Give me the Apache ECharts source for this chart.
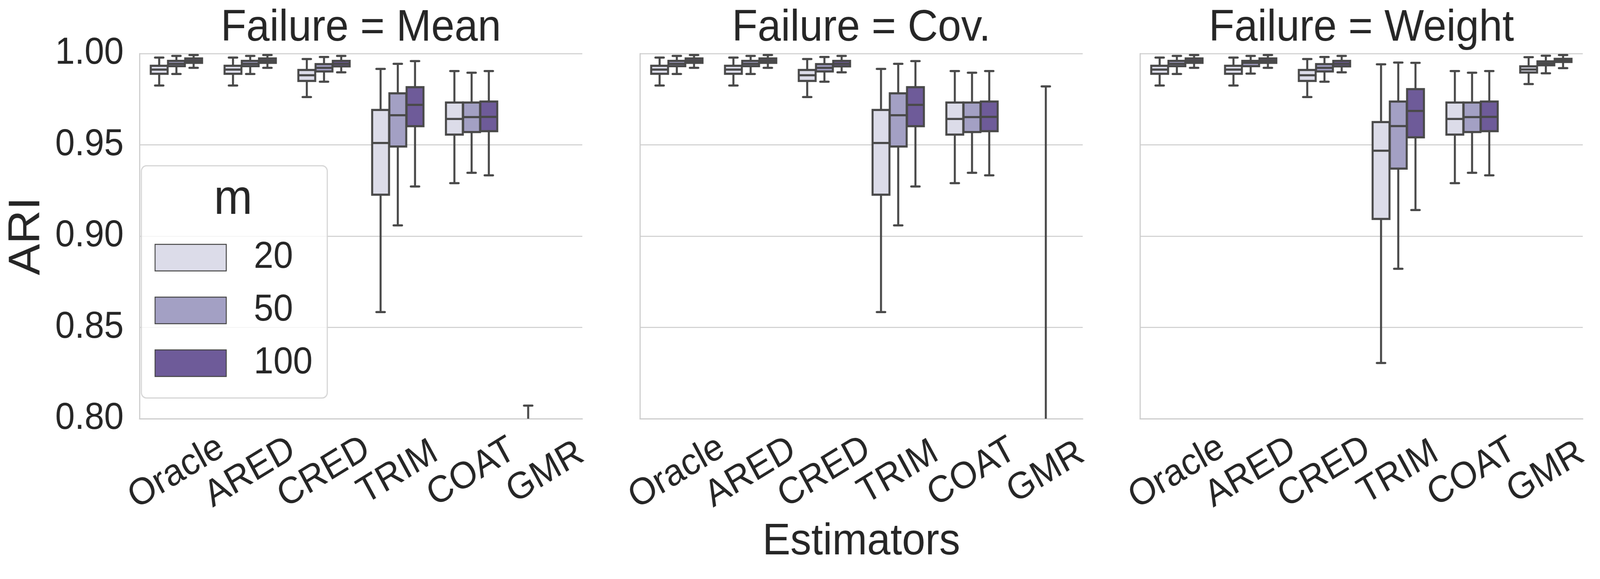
<!DOCTYPE html>
<html>
<head>
<meta charset="utf-8">
<script src="https://cdn.jsdelivr.net/npm/echarts@6/dist/echarts.min.js"></script>
<style>
html,body{margin:0;padding:0;background:#fff;overflow:hidden;}
#chart{width:4358px;height:1481px;transform-origin:0 0;}
</style>
</head>
<body>
<div id="chart"></div>
<script>
// ---------------- data ----------------
const categories = ['Oracle', 'ARED', 'CRED', 'TRIM', 'COAT', 'GMR'];
const hues = ['20', '50', '100'];
const panelTitles = ['Failure = Mean', 'Failure = Cov.', 'Failure = Weight'];
const yTickValues = [0.80, 0.85, 0.90, 0.95, 1.00];
const xAxisTitle = 'Estimators';
const yAxisTitle = 'ARI';
const legendTitle = 'm';

// each row: [lower whisker, Q1, median, Q3, upper whisker] per category
const meanM20 = [
  [0.9825, 0.9889, 0.9912, 0.9933, 0.9978],
  [0.9825, 0.9889, 0.9912, 0.9933, 0.9978],
  [0.9762, 0.9850, 0.9881, 0.9910, 0.9970],
  [0.8584, 0.9227, 0.9510, 0.9691, 0.9916],
  [0.9290, 0.9556, 0.9642, 0.9732, 0.9904],
  [0.5500, 0.6800, 0.7300, 0.7700, 0.8072]
];
const meanM50 = [
  [0.9888, 0.9931, 0.9944, 0.9960, 0.9987],
  [0.9888, 0.9931, 0.9944, 0.9960, 0.9987],
  [0.9846, 0.9902, 0.9922, 0.9942, 0.9981],
  [0.9059, 0.9491, 0.9662, 0.9782, 0.9944],
  [0.9347, 0.9570, 0.9652, 0.9732, 0.9895],
  [0.5000, 0.6200, 0.6800, 0.7200, 0.7800]
];
const meanM100 = [
  [0.9922, 0.9949, 0.9961, 0.9973, 0.9992],
  [0.9922, 0.9949, 0.9961, 0.9973, 0.9992],
  [0.9897, 0.9930, 0.9944, 0.9960, 0.9987],
  [0.9272, 0.9602, 0.9719, 0.9816, 0.9959],
  [0.9333, 0.9575, 0.9653, 0.9737, 0.9904],
  [0.5200, 0.6400, 0.7000, 0.7400, 0.7900]
];

const covM20 = [
  [0.9825, 0.9889, 0.9912, 0.9933, 0.9978],
  [0.9825, 0.9889, 0.9912, 0.9933, 0.9978],
  [0.9762, 0.9850, 0.9881, 0.9910, 0.9970],
  [0.8584, 0.9227, 0.9510, 0.9691, 0.9916],
  [0.9290, 0.9556, 0.9642, 0.9732, 0.9904],
  [0.4000, 0.5500, 0.6200, 0.6800, 0.7600]
];
const covM50 = [
  [0.9888, 0.9931, 0.9944, 0.9960, 0.9987],
  [0.9888, 0.9931, 0.9944, 0.9960, 0.9987],
  [0.9846, 0.9902, 0.9922, 0.9942, 0.9981],
  [0.9059, 0.9491, 0.9662, 0.9782, 0.9944],
  [0.9347, 0.9570, 0.9652, 0.9732, 0.9895],
  [0.4500, 0.6000, 0.6800, 0.7500, 0.9820]
];
const covM100 = [
  [0.9922, 0.9949, 0.9961, 0.9973, 0.9992],
  [0.9922, 0.9949, 0.9961, 0.9973, 0.9992],
  [0.9897, 0.9930, 0.9944, 0.9960, 0.9987],
  [0.9272, 0.9602, 0.9719, 0.9816, 0.9959],
  [0.9333, 0.9575, 0.9653, 0.9737, 0.9904],
  [0.4200, 0.5600, 0.6400, 0.7000, 0.7800]
];

const weightM20 = [
  [0.9825, 0.9889, 0.9912, 0.9933, 0.9978],
  [0.9825, 0.9889, 0.9912, 0.9933, 0.9978],
  [0.9762, 0.9850, 0.9881, 0.9910, 0.9970],
  [0.8305, 0.9094, 0.9468, 0.9625, 0.9941],
  [0.9290, 0.9556, 0.9642, 0.9732, 0.9904],
  [0.9833, 0.9896, 0.9913, 0.9930, 0.9980]
];
const weightM50 = [
  [0.9888, 0.9931, 0.9944, 0.9960, 0.9987],
  [0.9890, 0.9931, 0.9949, 0.9960, 0.9987],
  [0.9846, 0.9902, 0.9922, 0.9942, 0.9981],
  [0.8821, 0.9370, 0.9603, 0.9737, 0.9951],
  [0.9347, 0.9570, 0.9652, 0.9732, 0.9895],
  [0.9892, 0.9936, 0.9946, 0.9957, 0.9988]
];
const weightM100 = [
  [0.9922, 0.9949, 0.9961, 0.9973, 0.9992],
  [0.9922, 0.9949, 0.9961, 0.9973, 0.9992],
  [0.9897, 0.9930, 0.9944, 0.9960, 0.9987],
  [0.9143, 0.9541, 0.9686, 0.9805, 0.9949],
  [0.9333, 0.9575, 0.9653, 0.9737, 0.9904],
  [0.9920, 0.9954, 0.9962, 0.9971, 0.9992]
];

const panelData = [
  [meanM20, meanM50, meanM100],
  [covM20, covM50, covM100],
  [weightM20, weightM50, weightM100]
];

// ---------------- styles ----------------
const hueColors = ['#dcdce9', '#a3a0c4', '#6e5b99'];
const lineColor = '#494949';
const textColor = '#262626';
const gridColor = '#cccccc';
const LW = 5.5;
const FONT = '"Liberation Sans", Arial, "DejaVu Sans", sans-serif';

const W = 4358, H = 1481;
const gridLefts = [380, 1743, 3105];
const gridW = 1206, gridTop = 137, gridH = 934;

// the viewport may be narrower than the requested width: fit the figure horizontally
const chartEl = document.getElementById('chart');
const fitX = Math.min(1, (window.innerWidth || W) / W);
if (fitX < 1) chartEl.style.transform = 'scaleX(' + fitX + ')';

const chart = echarts.init(chartEl, null, {renderer: 'canvas', width: W, height: H});

function makeRender(hueIdx) {
  return function (params, api) {
    const cat = api.value(0);
    const lo = api.value(1), q1 = api.value(2), med = api.value(3), q3 = api.value(4), hi = api.value(5);
    const cs = params.coordSys;
    const top = cs.y, bottom = cs.y + cs.height;
    const band = api.size([1, 0])[0];
    const step = band * 0.7 / 3;
    const bw = step * 0.98;
    const cx = api.coord([cat, 0.9])[0] + (hueIdx - 1) * step;
    const Y = v => api.coord([cat, v])[1];
    const clampY = y => Math.max(top, Math.min(bottom, y));
    const inside = y => y >= top - 0.5 && y <= bottom + 0.5;
    const children = [];
    const yLo = Y(lo), yQ1 = Y(q1), yMed = Y(med), yQ3 = Y(q3), yHi = Y(hi);
    const seg = (ya, yb) => {
      const a = clampY(Math.min(ya, yb)), b = clampY(Math.max(ya, yb));
      if (b - a > 0.5) {
        children.push({type: 'line', shape: {x1: cx, y1: a, x2: cx, y2: b},
          style: {stroke: lineColor, lineWidth: LW, lineCap: 'butt'}});
      }
    };
    seg(yHi, yQ3);
    seg(yQ1, yLo);
    [yHi, yLo].forEach(y => {
      if (inside(y)) {
        children.push({type: 'line', shape: {x1: cx - bw / 4, y1: y, x2: cx + bw / 4, y2: y},
          style: {stroke: lineColor, lineWidth: LW, lineCap: 'round'}});
      }
    });
    const bt = clampY(yQ3), bb = clampY(yQ1);
    if (bb - bt > 0.5) {
      children.push({type: 'rect', shape: {x: cx - bw / 2, y: bt, width: bw, height: bb - bt},
        style: {fill: hueColors[hueIdx], stroke: lineColor, lineWidth: LW, lineJoin: 'miter'}});
    }
    if (inside(yMed)) {
      children.push({type: 'line', shape: {x1: cx - bw / 2, y1: yMed, x2: cx + bw / 2, y2: yMed},
        style: {stroke: lineColor, lineWidth: LW, lineCap: 'butt'}});
    }
    return {type: 'group', children: children};
  };
}

const grids = [], xAxes = [], yAxes = [], series = [], graphics = [];
for (let p = 0; p < 3; p++) {
  grids.push({left: gridLefts[p], top: gridTop, width: gridW, height: gridH, containLabel: false});
  xAxes.push({
    type: 'category', gridIndex: p, data: categories, boundaryGap: true,
    axisLine: {show: true, lineStyle: {color: gridColor, width: 3}},
    axisTick: {show: false},
    splitLine: {show: false},
    axisLabel: {
      interval: 0, rotate: 30, align: 'center', verticalAlign: 'middle', margin: 138,
      fontSize: 96, color: textColor, fontFamily: FONT
    }
  });
  yAxes.push({
    type: 'value', gridIndex: p, min: yTickValues[0], max: yTickValues[yTickValues.length - 1],
    interval: 0.05,
    axisLine: {show: true, lineStyle: {color: gridColor, width: 3}},
    axisTick: {show: false},
    splitLine: {show: true, lineStyle: {color: gridColor, width: 2.5}},
    axisLabel: {
      show: p === 0, margin: 43, fontSize: 96, color: textColor, fontFamily: FONT,
      formatter: v => v.toFixed(2)
    }
  });
  for (let h = 0; h < 3; h++) {
    const rows = panelData[p][h];
    series.push({
      type: 'custom', name: hues[h], xAxisIndex: p, yAxisIndex: p,
      renderItem: makeRender(h),
      clip: true,
      itemStyle: {color: hueColors[h], borderColor: lineColor, borderWidth: 2.5},
      encode: {x: 0, y: [1, 2, 3, 4, 5]},
      data: rows.map((r, i) => [i].concat(r)),
      z: 3 + h
    });
  }
  graphics.push({
    type: 'text', x: gridLefts[p] + gridW / 2, y: 73,
    style: {text: panelTitles[p], fontSize: 114, fontFamily: FONT, fill: textColor,
      align: 'center', verticalAlign: 'middle'}
  });
}

graphics.push({
  type: 'text', x: gridLefts[1] + gridW / 2, y: 1387,
  style: {text: xAxisTitle, fontSize: 114, fontFamily: FONT, fill: textColor,
    align: 'center', verticalAlign: 'middle'}
});
graphics.push({
  type: 'text', x: 74, y: 604, rotation: Math.PI / 2,
  style: {text: yAxisTitle, fontSize: 120, fontFamily: FONT, fill: textColor,
    align: 'center', verticalAlign: 'middle'}
});
graphics.push({
  type: 'text', x: 635, y: 512, z: 100,
  style: {text: legendTitle, fontSize: 126, fontFamily: FONT, fill: textColor,
    align: 'center', verticalAlign: 'middle'}
});

const option = {
  backgroundColor: '#ffffff',
  animation: false,
  grid: grids,
  xAxis: xAxes,
  yAxis: yAxes,
  series: series,
  legend: {
    data: hues.map(n => ({name: n, icon: 'rect'})),
    orient: 'vertical',
    left: 385, top: 424,
    padding: [187, 40, 41, 36],
    itemGap: 39,
    itemWidth: 194, itemHeight: 68,
    selectedMode: false,
    backgroundColor: 'rgba(255,255,255,0.8)',
    borderColor: '#d5d5d5', borderWidth: 3, borderRadius: 14,
    itemStyle: {borderColor: '#444444', borderWidth: 2.5},
    textStyle: {fontSize: 96, color: textColor, fontFamily: FONT, padding: [0, 0, 0, 70]},
    z: 10
  },
  graphic: graphics
};
chart.setOption(option);
</script>
</body>
</html>
